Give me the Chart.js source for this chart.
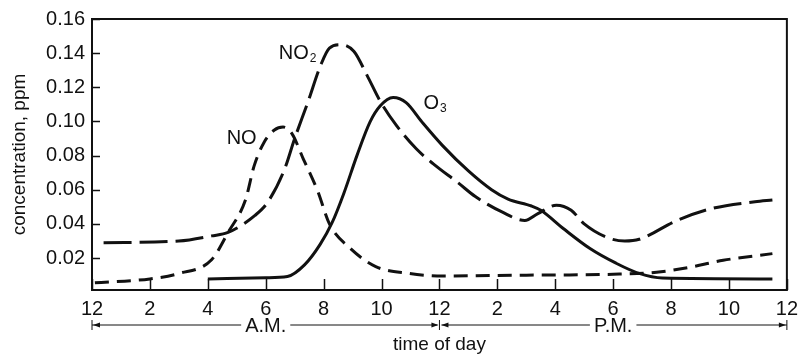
<!DOCTYPE html>
<html>
<head>
<meta charset="utf-8">
<script src="https://cdn.jsdelivr.net/npm/chart.js@4/dist/chart.umd.min.js"></script>
<style>
  html, body { margin: 0; padding: 0; background: #fff; }
  #wrap { width: 805px; height: 354px; }
</style>
</head>
<body>
<div id="wrap"><canvas id="smog" width="805" height="354"></canvas></div>
<script>
// hours of day (0 = midnight) and concentrations in ppm
const noHours  = [0.1, 2.0, 3.0, 4.13, 4.7, 5.3, 5.6, 5.95, 6.3, 6.6, 6.9, 7.3, 7.8, 8.2, 8.9, 9.8, 10.95, 12.1, 15.0, 18.0, 19.5, 20.6, 21.8, 23.5];
const noValues = [0.0055, 0.0078, 0.011, 0.019, 0.035, 0.054, 0.074, 0.088, 0.095, 0.0967, 0.093, 0.078, 0.059, 0.040, 0.026, 0.015, 0.011, 0.0095, 0.0100, 0.0105, 0.0117, 0.0145, 0.0187, 0.0226];

const no2Hours  = [0.4, 3.0, 4.13, 4.7, 5.63, 6.08, 6.65, 7.0, 7.45, 7.9, 8.2, 8.6, 9.05, 9.5, 9.95, 10.5, 11.2, 11.8, 12.65, 13.24, 14.16, 14.95, 15.4, 16.04, 16.55, 17.0, 17.8, 18.4, 18.9, 20.2, 21.4, 22.9, 23.5];
const no2Values = [0.029, 0.030, 0.033, 0.035, 0.045, 0.053, 0.072, 0.090, 0.111, 0.133, 0.143, 0.145, 0.141, 0.127, 0.112, 0.098, 0.084, 0.075, 0.064, 0.056, 0.047, 0.042, 0.046, 0.051, 0.048, 0.040, 0.032, 0.030, 0.031, 0.042, 0.049, 0.053, 0.054];

const o3Hours  = [4.0, 6.0, 6.75, 7.34, 7.88, 8.3, 8.7, 9.15, 9.6, 9.95, 10.4, 10.85, 11.4, 12.1, 13.0, 13.8, 14.37, 15.18, 15.5, 16.3, 17.2, 18.1, 18.9, 19.7, 23.5];
const o3Values = [0.0078, 0.0085, 0.0092, 0.016, 0.028, 0.041, 0.058, 0.080, 0.0996, 0.109, 0.114, 0.111, 0.0996, 0.086, 0.071, 0.060, 0.0545, 0.0505, 0.048, 0.037, 0.0256, 0.017, 0.011, 0.0083, 0.0078];

const xTickHours = [0, 2, 4, 6, 8, 10, 12, 14, 16, 18, 20, 22, 24];
const yTickValues = [0.02, 0.04, 0.06, 0.08, 0.10, 0.12, 0.14, 0.16];

const FONT = "'Liberation Sans', Arial, Helvetica, sans-serif";
const INK = '#111';

function toPoints(hours, values) {
  return hours.map((h, i) => ({ x: h, y: values[i] }));
}

// frame, inward ticks, A.M./P.M. bar and curve names
const decorPlugin = {
  id: 'decor',
  afterDraw(chart) {
    const { ctx, chartArea: a } = chart;
    const x = chart.scales.x, y = chart.scales.y;
    ctx.save();
    ctx.strokeStyle = INK;
    ctx.fillStyle = INK;

    ctx.lineWidth = 2;
    ctx.strokeRect(a.left, a.top, a.right - a.left, a.bottom - a.top);

    ctx.lineWidth = 1.5;
    ctx.beginPath();
    xTickHours.forEach(h => {
      const px = Math.round(x.getPixelForValue(h)) + 0.5;
      ctx.moveTo(px, a.bottom);
      ctx.lineTo(px, a.bottom - 11);
    });
    yTickValues.forEach(v => {
      const py = Math.round(y.getPixelForValue(v)) + 0.5;
      ctx.moveTo(a.left, py);
      ctx.lineTo(a.left + 8, py);
    });
    ctx.stroke();

    // A.M. / P.M. span
    const rowY = 325;
    const x0 = x.getPixelForValue(0), x12 = x.getPixelForValue(12), x24 = x.getPixelForValue(24);
    ctx.lineWidth = 1;
    ctx.beginPath();
    [x0, x12, x24].forEach(px => { ctx.moveTo(px, rowY - 5); ctx.lineTo(px, rowY + 5); });
    ctx.moveTo(x0, rowY); ctx.lineTo(x12 - 2, rowY);
    ctx.moveTo(x12 + 2, rowY); ctx.lineTo(x24, rowY);
    ctx.stroke();
    const arrow = (tipX, dir) => {
      ctx.beginPath();
      ctx.moveTo(tipX, rowY);
      ctx.lineTo(tipX + dir * 7, rowY - 2.5);
      ctx.lineTo(tipX + dir * 7, rowY + 2.5);
      ctx.closePath();
      ctx.fill();
    };
    arrow(x0 + 1, 1);
    arrow(x12 - 1, -1);
    arrow(x12 + 2, 1);
    arrow(x24 - 1, -1);

    ctx.font = '20px ' + FONT;
    ctx.textAlign = 'center';
    ctx.textBaseline = 'middle';
    [['A.M.', 6], ['P.M.', 18]].forEach(([txt, h]) => {
      const cx = x.getPixelForValue(h);
      const w = ctx.measureText(txt).width;
      ctx.fillStyle = '#fff';
      ctx.fillRect(cx - w / 2 - 4, rowY - 6, w + 8, 12);
      ctx.fillStyle = INK;
      ctx.fillText(txt, cx, rowY + 1);
    });

    // curve names
    const label = (main, sub, h, v) => {
      const px = x.getPixelForValue(h), py = y.getPixelForValue(v);
      ctx.textAlign = 'left';
      ctx.textBaseline = 'middle';
      ctx.font = '20px ' + FONT;
      ctx.fillText(main, px, py);
      if (sub) {
        const w = ctx.measureText(main).width;
        ctx.font = '12px ' + FONT;
        ctx.fillText(sub, px + w + 1, py + 5);
      }
    };
    label('NO', '', 4.65, 0.090);
    label('NO', '2', 6.45, 0.1396);
    label('O', '3', 11.45, 0.1105);

    ctx.restore();
  }
};

const lineStyle = {
  borderColor: INK,
  borderWidth: 3,
  pointRadius: 0,
  fill: false,
  cubicInterpolationMode: 'monotone',
  borderCapStyle: 'butt'
};

new Chart(document.getElementById('smog'), {
  type: 'line',
  data: {
    datasets: [
      { ...lineStyle, label: 'NO', data: toPoints(noHours, noValues), borderDash: [14, 8] },
      { ...lineStyle, label: 'NO2', data: toPoints(no2Hours, no2Values), borderDash: [28, 8] },
      { ...lineStyle, label: 'O3', data: toPoints(o3Hours, o3Values) }
    ]
  },
  options: {
    responsive: false,
    animation: false,
    devicePixelRatio: 1,
    layout: { padding: { top: 16, right: 10, left: 0, bottom: 0 } },
    plugins: { legend: { display: false }, tooltip: { enabled: false } },
    scales: {
      x: {
        type: 'linear',
        min: 0,
        max: 24,
        afterBuildTicks: s => { s.ticks = xTickHours.map(v => ({ value: v })); },
        afterFit: s => { s.height = 64; },
        grid: { display: false, drawTicks: false },
        border: { display: false },
        ticks: {
          color: INK,
          padding: 7,
          maxRotation: 0,
          autoSkip: false,
          font: { family: FONT, size: 20 },
          callback: v => (v % 12 === 0 ? 12 : v % 12)
        },
        title: {
          display: true,
          text: 'time of day',
          color: INK,
          font: { family: FONT, size: 19, lineHeight: 1 },
          padding: { top: 0, bottom: 0 }
        }
      },
      y: {
        min: 0.0013,
        max: 0.16,
        afterBuildTicks: s => { s.ticks = yTickValues.map(v => ({ value: v })); },
        afterFit: s => { s.width = 92; },
        grid: { display: false, drawTicks: false },
        border: { display: false },
        ticks: {
          color: INK,
          padding: 7,
          font: { family: FONT, size: 20 },
          callback: v => v.toFixed(2)
        },
        title: {
          display: true,
          text: 'concentration, ppm',
          color: INK,
          font: { family: FONT, size: 19, lineHeight: 1 },
          padding: { top: 10, bottom: 0 }
        }
      }
    }
  },
  plugins: [decorPlugin]
});
</script>
</body>
</html>
